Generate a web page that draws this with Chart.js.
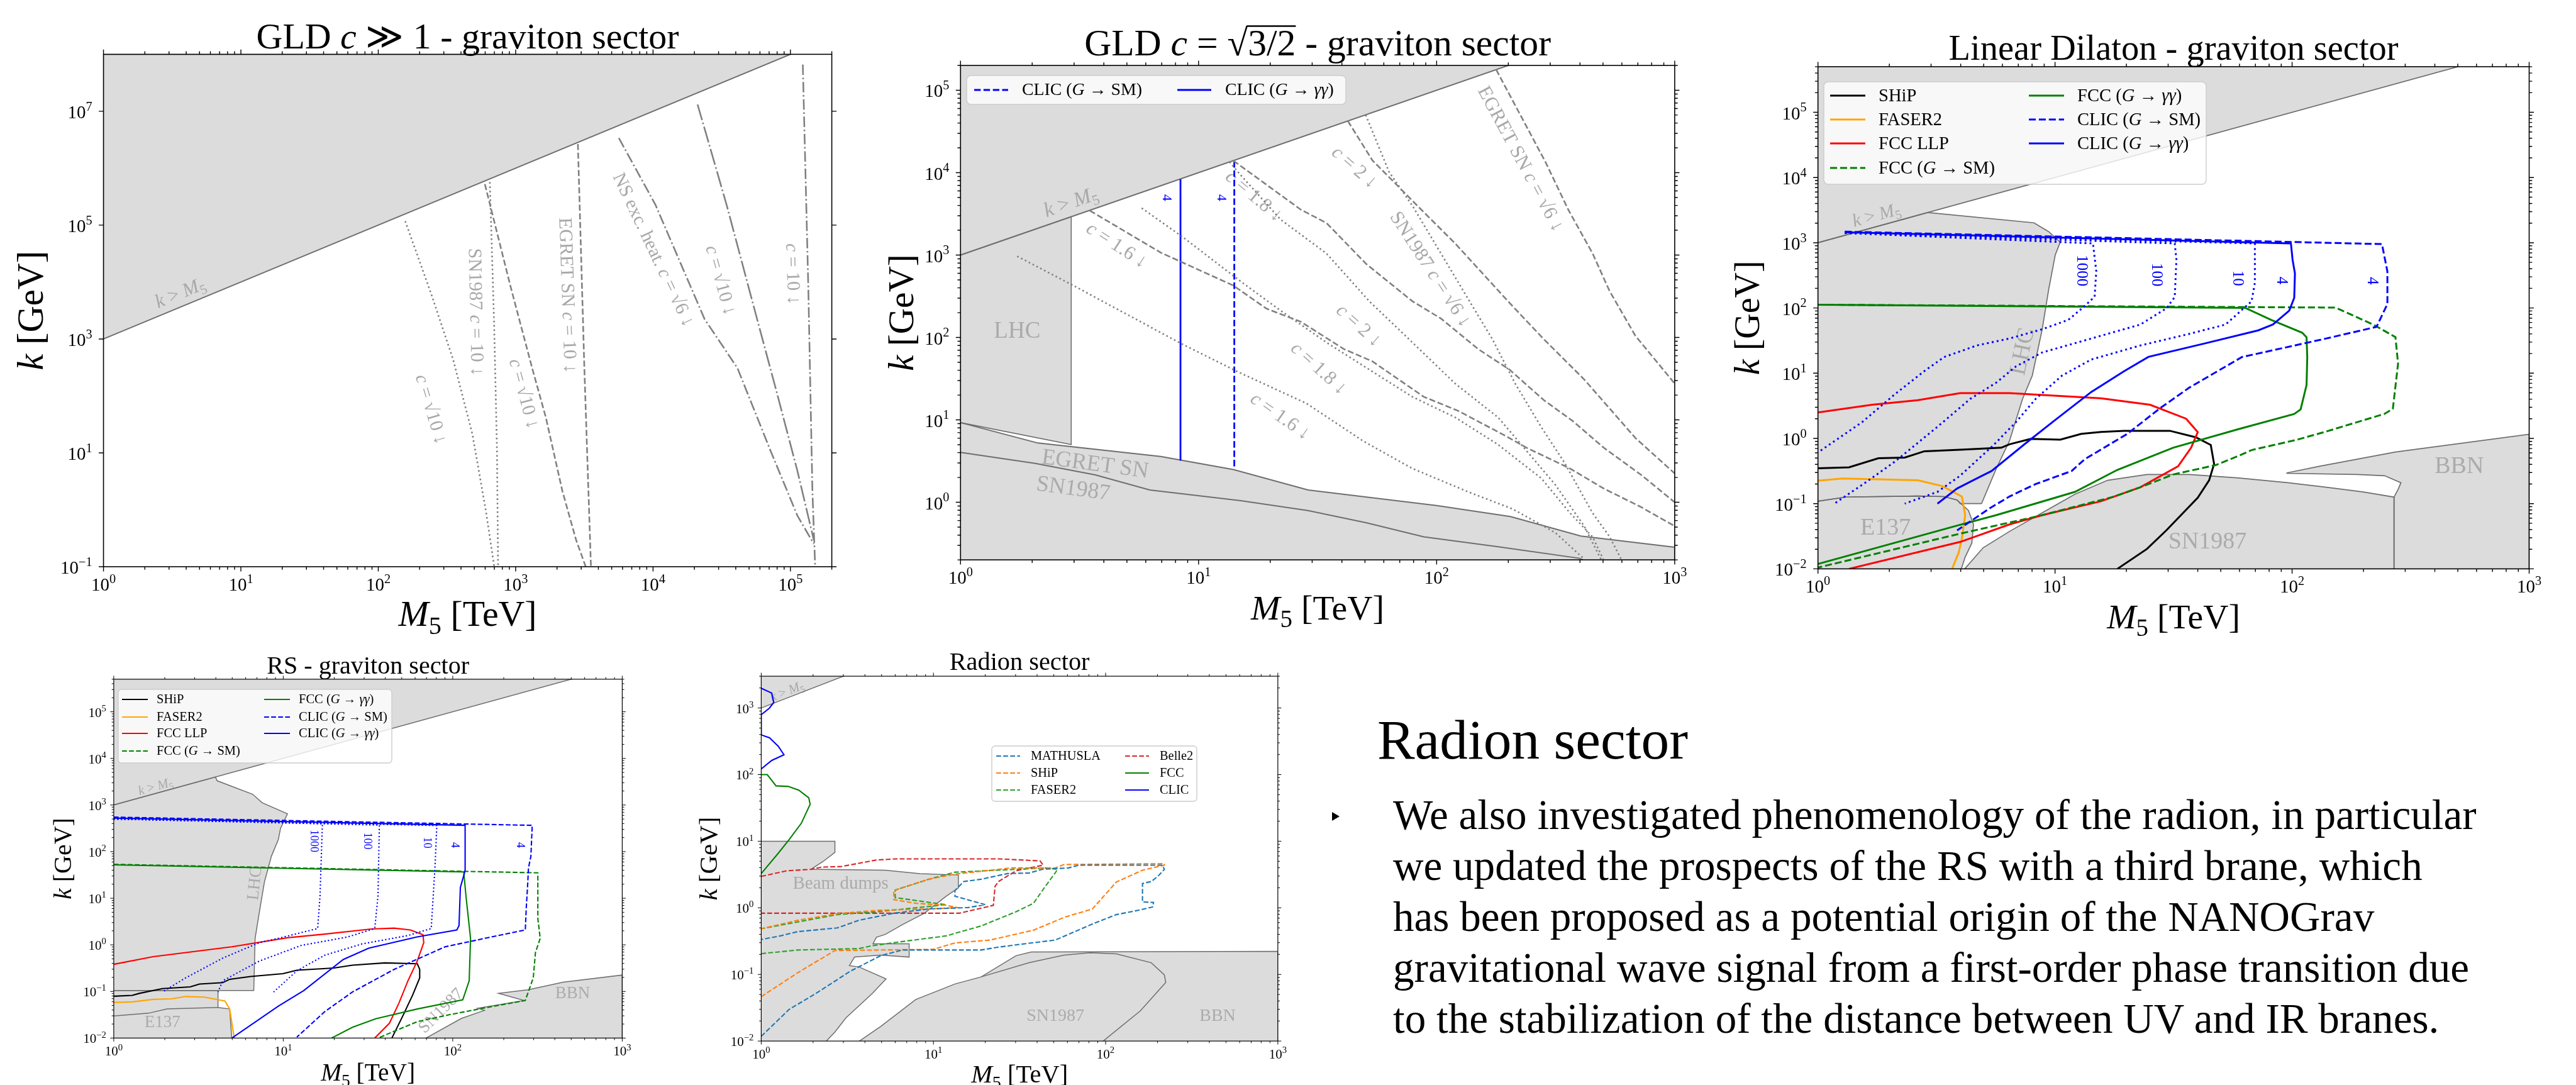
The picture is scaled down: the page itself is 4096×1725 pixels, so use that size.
<!DOCTYPE html>
<html>
<head>
<meta charset="utf-8">
<script src="https://cdn.jsdelivr.net/npm/chart.js@4.4.1/dist/chart.umd.min.js"></script>
<style>
  html, body { margin: 0; padding: 0; background: #fff; }
  body { width: 4096px; height: 1725px; position: relative; overflow: hidden; }
  canvas.panel { position: absolute; left: 0; top: 0; }
  .slide { position: absolute; font-family: 'Liberation Serif', 'DejaVu Serif', serif; color: #000; white-space: nowrap; line-height: 1; }
  #bullet { position: absolute; left: 2118px; top: 1291px; width: 0; height: 0;
    border-top: 7px solid transparent; border-bottom: 7px solid transparent; border-left: 12px solid #000; }
</style>
</head>
<body>
<canvas id="p1" class="panel" width="4096" height="1725"></canvas>
<canvas id="p2" class="panel" width="4096" height="1725"></canvas>
<canvas id="p3" class="panel" width="4096" height="1725"></canvas>
<canvas id="p4" class="panel" width="4096" height="1725"></canvas>
<canvas id="p5" class="panel" width="4096" height="1725"></canvas>

<div id="heading" class="slide">Radion sector</div>
<div id="bullet"></div>
<div class="slide body-line">We also investigated phenomenology of the radion, in particular</div>
<div class="slide body-line">we updated the prospects of the RS with a third brane, which</div>
<div class="slide body-line">has been proposed as a potential origin of the NANOGrav</div>
<div class="slide body-line">gravitational wave signal from a first-order phase transition due</div>
<div class="slide body-line">to the stabilization of the distance between UV and IR branes.</div>

<script>
// all curves below are [log10(M5 / TeV), log10(k / GeV)]

// ---- GLD c >> 1 ----
const p1KM5 = [[0, 3], [5, 8], [0, 8]];
const p1SnSqrt10 = [[2.196, 5.07], [2.387, 3.78], [2.546, 2.63], [2.685, 1.33], [2.784, -0.03], [2.844, -1]];
const p1Sn10 = [[2.812, 5.756], [2.844, 3.2], [2.864, 1.05], [2.872, -1]];
const p1EgSqrt10 = [[2.776, 5.72], [2.963, 3.92], [3.12, 2.49], [3.22, 1.62], [3.34, 0.33], [3.44, -0.53], [3.51, -1]];
const p1Eg10 = [[3.453, 6.425], [3.5, 2.49], [3.548, -1]];
const p1NsSqrt6 = [[3.751, 6.53], [4.017, 5.36], [4.375, 3.35], [4.614, 2.49], [4.853, 1.05], [5.05, -0.1], [5.17, -0.6]];
const p1NsSqrt10 = [[4.324, 7.12], [4.535, 5.36], [4.734, 3.56], [4.893, 2.13], [5.05, 0.69], [5.17, -0.53]];
const p1Ns10 = [[5.09, 7.82], [5.13, 3.92], [5.16, 0.33], [5.18, -1]];

// ---- GLD c = sqrt(3/2) ----
const p2KM5 = [[0, 3], [3, 6], [0, 6]];
const p2Lhc = [[0, 3], [0.465, 3.465], [0.465, 0.7], [0, 0.967]];
const p2Egret = [[0, 0.967], [0.325, 0.719], [0.841, 0.556], [1.146, 0.397], [1.46, 0.149], [2.0, -0.04], [2.31, -0.174], [2.606, -0.41], [3, -0.546], [3, -0.75], [0, -0.75]];
const p2Sn = [[0, 0.605], [0.314, 0.471], [0.566, 0.332], [0.795, 0.149], [1.177, 0.019], [1.46, -0.1], [1.706, -0.25], [1.946, -0.42], [2.258, -0.54], [2.6, -0.68], [2.65, -0.75], [0, -0.75]];
const p2Dot16 = [[0.238, 2.986], [0.474, 2.63], [0.924, 1.93], [1.162, 1.587], [1.453, 1.2], [1.693, 0.74], [1.898, 0.41], [2.138, 0.12], [2.318, -0.08], [2.499, -0.37], [2.62, -0.69]];
const p2Dot18 = [[0.761, 3.57], [0.933, 3.22], [1.177, 2.68], [1.333, 2.35], [1.537, 1.94], [1.717, 1.61], [1.898, 1.28], [2.078, 1.03], [2.258, 0.7], [2.44, 0.29], [2.56, -0.13], [2.655, -0.42], [2.7, -0.69]];
const p2Dot20 = [[1.13, 4.13], [1.177, 3.97], [1.345, 3.43], [1.537, 3.02], [1.717, 2.44], [1.898, 1.94], [2.078, 1.44], [2.258, 1.03], [2.379, 0.62], [2.499, 0.21], [2.62, -0.29], [2.69, -0.69]];
const p2DotSn = [[1.702, 4.7], [1.8, 4.01], [1.9, 3.59], [2.018, 3.02], [2.138, 2.44], [2.234, 1.98], [2.33, 1.44], [2.44, 0.91], [2.535, 0.49], [2.655, -0.13], [2.727, -0.42], [2.775, -0.69]];
const p2Dash16 = [[0.543, 3.54], [0.841, 3.03], [1.146, 2.63], [1.285, 2.35], [1.43, 2.19], [1.61, 1.86], [1.73, 1.71], [1.946, 1.28], [2.09, 1.11], [2.28, 0.82], [2.379, 0.66], [2.56, 0.41], [2.703, 0.165], [2.86, -0.06], [3, -0.29]];
const p2Dash18 = [[1.146, 4.146], [1.43, 3.55], [1.537, 3.39], [1.705, 2.89], [1.898, 2.44], [2.018, 2.23], [2.174, 1.86], [2.306, 1.61], [2.45, 1.24], [2.57, 0.99], [2.703, 0.66], [2.86, 0.33], [3, 0]];
const p2Dash20 = [[1.627, 4.627], [1.73, 4.15], [1.922, 3.59], [2.078, 3.14], [2.306, 2.42], [2.45, 1.98], [2.62, 1.49], [2.835, 0.78], [3, 0.35]];
const p2DashEg = [[2.25, 5.25], [2.457, 4.13], [2.553, 3.55], [2.655, 3.02], [2.727, 2.56], [2.835, 2.02], [3, 1.44]];
const p2ClicGG = [[0.924, 3.92], [0.924, 0.506]];
const p2ClicSM = [[1.15, 4.14], [1.15, 0.407]];

// ---- Linear Dilaton ----
const p3KM5 = [[0, 3], [3, 6], [0, 6]];
const p3Lhc = [[0, 3], [0.463, 3.463], [0.911, 3.306], [0.973, 3.171], [1.022, 3.01], [1.001, 2.815], [0.973, 2.28], [0.946, 1.674], [0.904, 0.962], [0.863, 0.605], [0.808, -0.036], [0.752, -0.464], [0.69, -1.0], [0.6, -1.0], [0.587, -0.945], [0.532, -0.892], [0.421, -0.884], [0.117, -0.899], [0, -0.963]];
const p3E137 = [[0, -0.963], [0.117, -0.899], [0.421, -0.884], [0.532, -0.892], [0.587, -0.945], [0.635, -1.106], [0.656, -1.319], [0.649, -1.605], [0.621, -1.818], [0.6, -2.05], [0, -2.05]];
const p3Sn = [[0.607, -2.05], [0.697, -1.676], [0.808, -1.426], [0.946, -1.141], [1.084, -0.856], [1.222, -0.642], [1.388, -0.553], [1.567, -0.553], [1.774, -0.607], [1.981, -0.678], [2.144, -0.749], [2.3, -0.82], [2.43, -0.9], [2.43, -2.05]];
const p3Bbn = [[1.976, -0.53], [2.114, -0.428], [2.436, -0.208], [3, 0.063], [3, -2.05], [2.43, -2.05], [2.43, -0.9], [2.448, -0.774], [2.459, -0.679], [2.39, -0.572], [2.275, -0.553], [1.976, -0.535]];
const p3Ship = [[0, -0.457], [0.131, -0.443], [0.255, -0.304], [0.366, -0.293], [0.449, -0.197], [0.614, -0.172], [0.773, -0.143], [0.808, -0.09], [0.897, -0.008], [1.022, -0.019], [1.111, 0.07], [1.194, 0.099], [1.291, 0.117], [1.484, 0.117], [1.594, 0.017], [1.657, -0.1], [1.671, -0.393], [1.65, -0.642], [1.602, -0.91], [1.47, -1.408], [1.388, -1.694], [1.263, -2]];
const p3Faser = [[0, -0.649], [0.104, -0.614], [0.421, -0.642], [0.525, -0.731], [0.607, -0.892], [0.621, -1.177], [0.607, -1.533], [0.594, -1.747], [0.566, -2]];
const p3FccLlp = [[0, 0.398], [0.228, 0.516], [0.421, 0.587], [0.6, 0.694], [0.808, 0.694], [1.194, 0.616], [1.401, 0.516], [1.553, 0.302], [1.602, 0.096], [1.574, -0.143], [1.519, -0.428], [1.36, -0.749], [1.194, -0.963], [0.946, -1.177], [0.808, -1.319], [0.6, -1.587], [0.131, -2]];
const p3FccGG = [[0, 2.05], [1.802, 2.002], [1.912, 1.817], [2.043, 1.62], [2.061, 1.55], [2.064, 1.247], [2.061, 0.82], [2.036, 0.445], [2.009, 0.374], [1.774, 0.142], [1.498, -0.143], [1.263, -0.482], [1.084, -0.82], [0.752, -1.177], [0.587, -1.337], [0, -1.925]];
const p3FccSM = [[0, 2.05], [2.183, 2.006], [2.344, 1.742], [2.436, 1.553], [2.447, 1.145], [2.425, 0.453], [2.39, 0.377], [2.144, 0.106], [2.023, -0.018], [1.829, -0.179], [1.774, -0.268], [1.677, -0.41], [1.498, -0.553], [1.36, -0.749], [1.249, -0.892], [0.946, -1.177], [0.6, -1.46], [0, -1.98]];
const p3ClicSM = [[0.113, 3.17], [2.379, 2.98], [2.402, 2.56], [2.402, 2.06], [2.356, 1.71], [2.144, 1.532], [1.788, 1.247], [1.567, 0.78], [1.443, 0.463], [1.305, 0.07], [1.125, -0.32], [1.07, -0.5], [0.918, -0.7], [0.808, -0.89], [0.725, -1.07], [0.587, -1.41]];
const p3ClicGG = [[0.113, 3.16], [1.995, 2.99], [2.002, 2.74], [2.012, 2.53], [2.009, 2.155], [1.988, 1.96], [1.919, 1.746], [1.857, 1.657], [1.636, 1.46], [1.394, 1.25], [1.291, 1.03], [1.153, 0.712], [1.001, 0.284], [0.877, -0.072], [0.732, -0.5], [0.683, -0.589], [0.587, -0.767], [0.504, -1.0]];
const p3Clic10 = [[0.113, 3.15], [1.843, 2.99], [1.843, 2.387], [1.829, 2.1], [1.774, 1.924], [1.719, 1.746], [1.567, 1.603], [1.36, 1.425], [1.153, 1.21], [1.029, 0.962], [0.918, 0.605], [0.835, 0.249], [0.739, -0.108], [0.6, -0.571], [0.504, -0.82], [0.366, -1.0]];
const p3Clic100 = [[0.113, 3.15], [1.505, 2.99], [1.512, 2.74], [1.505, 2.17], [1.47, 1.995], [1.36, 1.746], [1.222, 1.603], [1.084, 1.46], [0.946, 1.318], [0.835, 1.104], [0.752, 0.855], [0.642, 0.605], [0.504, 0.178], [0.324, -0.357], [0.2, -0.678], [0.069, -1.0]];
const p3Clic1000 = [[0.113, 3.15], [1.16, 2.99], [1.174, 2.565], [1.167, 2.173], [1.125, 2.03], [1.056, 1.817], [0.946, 1.674], [0.808, 1.532], [0.67, 1.425], [0.532, 1.247], [0.449, 1.033], [0.324, 0.676], [0.186, 0.249], [0, -0.215]];

// ---- RS ----
const p4KM5 = [[0, 3], [3, 6], [0, 6]];
const p4Lhc = [[0, 3], [0.6, 3.6], [0.61, 3.52], [0.82, 3.23], [0.875, 3.05], [1.025, 2.81], [0.984, 2.5], [0.971, 2.26], [0.93, 1.9], [0.889, 1.35], [0.861, 0.745], [0.834, 0.14], [0.826, -0.98], [0, -0.98]];
const p4E137 = [[0, -0.98], [0.615, -0.98], [0.615, -1.345], [0.684, -1.376], [0.697, -2.05], [0, -2.05]];
const p4E137Edge = [[0, -1.527], [0.205, -1.467], [0.315, -1.376], [0.615, -1.345]];
const p4Bbn = [[1.818, -2.05], [2.05, -1.58], [2.187, -1.406], [2.147, -1.36], [2.42, -1.194], [2.27, -1.04], [2.447, -0.964], [2.652, -0.8], [3, -0.648], [3, -2.05]];
const p4Ship = [[0, -1.103], [0.109, -1.085], [0.15, -1.042], [0.287, -0.939], [0.451, -0.903], [0.506, -0.842], [0.643, -0.812], [0.684, -0.739], [0.807, -0.679], [0.998, -0.618], [1.08, -0.545], [1.299, -0.497], [1.408, -0.436], [1.6, -0.388], [1.791, -0.406], [1.805, -0.527], [1.805, -0.709], [1.764, -1.073], [1.709, -1.497], [1.641, -2]];
const p4Faser = [[0, -1.236], [0.109, -1.224], [0.232, -1.17], [0.342, -1.158], [0.424, -1.109], [0.533, -1.121], [0.656, -1.206], [0.684, -1.376], [0.711, -2]];
const p4FccLlp = [[0, -0.418], [0.232, -0.255], [0.697, -0.042], [1.025, 0.152], [1.244, 0.23], [1.518, 0.339], [1.654, 0.358], [1.75, 0.32], [1.824, 0.218], [1.829, 0.048], [1.791, -0.345], [1.736, -0.77], [1.682, -1.255], [1.627, -1.679], [1.54, -2]];
const p4FccGG = [[0, 1.715], [2.065, 1.564], [2.078, 1.048], [2.105, 0.139], [2.097, -0.77], [2.059, -1.18], [1.791, -1.376], [1.545, -1.588], [1.408, -1.77], [1.285, -2]];
const p4FccSM = [[0, 1.727], [2.502, 1.545], [2.502, 0.564], [2.516, 0.139], [2.488, -0.164], [2.475, -0.709], [2.428, -1.194], [2.201, -1.345], [1.983, -1.497], [1.791, -1.648], [1.559, -2]];
const p4ClicGG = [[0, 2.72], [2.073, 2.564], [2.073, 1.594], [2.045, 1.23], [2.037, 0.412], [2.024, 0.32], [1.791, 0.17], [1.504, -0.073], [1.354, -0.315], [1.121, -0.98], [0.971, -1.315], [0.697, -2]];
const p4ClicSM = [[0, 2.74], [2.469, 2.564], [2.461, 1.897], [2.447, 1.655], [2.442, 1.29], [2.434, 0.806], [2.428, 0.32], [2.229, 0.17], [1.955, -0.042], [1.805, -0.285], [1.654, -0.527], [1.408, -1.012], [1.244, -1.436], [1.08, -1.98]];
const p4Clic1000 = [[0, 2.7], [1.231, 2.6], [1.217, 1.05], [1.203, 0.35], [0.971, 0.14], [0.861, 0.05], [0.643, -0.285], [0.424, -0.709], [0.287, -1.012]];
const p4Clic100 = [[0, 2.7], [1.567, 2.57], [1.559, 1.05], [1.54, 0.35], [1.381, 0.17], [1.107, -0.012], [0.861, -0.345], [0.643, -0.77], [0.615, -1.012]];
const p4Clic10 = [[0, 2.7], [1.906, 2.56], [1.895, 1.655], [1.873, 0.35], [1.736, 0.2], [1.463, 0.018], [1.244, -0.224], [1.08, -0.558], [0.943, -1.012]];

// ---- Radion ----
const p5KM5 = [[0, 3], [1, 4], [0, 4]];
const p5Beam = [[0, 1.0], [0.428, 1.0], [0.428, 0.833], [0.36, 0.697], [0.289, 0.578], [0.72, 0.565], [0.922, 0.514], [1.145, 0.493], [1.145, 0.3], [1.074, 0.174], [0.948, -0.081], [0.821, -0.251], [0.72, -0.4], [0.669, -0.442], [0.649, -0.54], [0.859, -0.54], [0.859, -0.739], [0.694, -0.709], [0.542, -0.739], [0.512, -0.867], [0.568, -0.888], [0.725, -1.066], [0.643, -1.29], [0.492, -1.652], [0.428, -1.865], [0.36, -2.05], [0, -2.05]];
const p5Sn = [[0.542, -2.05], [0.694, -1.78], [0.897, -1.376], [1.125, -1.143], [1.277, -1.037], [1.48, -0.718], [1.568, -0.663], [3, -0.654], [3, -2.05]];
const p5SnEdge = [[1.277, -1.037], [1.556, -0.824], [1.758, -0.709], [1.91, -0.675], [2.062, -0.692], [2.265, -0.824], [2.341, -1.007], [2.349, -1.121], [2.202, -1.546], [1.986, -2]];
const p5Clic = [[0, 3.297], [0.061, 3.224], [0.073, 3.084], [0.048, 2.999], [0, 2.9], [0, 2.596], [0.048, 2.553], [0.099, 2.426], [0.132, 2.298], [0.061, 2.213], [0, 2.086]];
const p5Fcc = [[0, 2.0], [0.035, 2.0], [0.086, 1.831], [0.157, 1.822], [0.218, 1.767], [0.276, 1.652], [0.284, 1.555], [0.233, 1.27], [0.162, 1.024], [0.099, 0.82], [0, 0.514]];
const p5Belle = [[0, 0.472], [0.149, 0.556], [0.289, 0.578], [0.352, 0.612], [0.466, 0.62], [0.669, 0.718], [0.783, 0.735], [1.378, 0.735], [1.619, 0.705], [1.637, 0.641], [1.48, 0.556], [1.378, 0.395], [1.358, 0.323], [1.348, 0.038], [1.15, -0.081], [0, -0.081]];
const p5Ship = [[0, -1.334], [0.213, -0.973], [0.428, -0.641], [0.669, -0.633], [0.998, -0.624], [1.125, -0.527], [1.328, -0.484], [1.581, -0.336], [1.758, -0.144], [1.923, -0.017], [2.062, 0.387], [2.214, 0.565], [2.341, 0.641], [2.341, 0.663], [1.758, 0.65], [1.707, 0.599], [1.454, 0.599], [1.125, 0.506], [0.973, 0.429], [0.77, 0.259], [0.77, 0.123], [0.897, 0.068], [1.074, 0.038], [1.138, 0.004], [0.973, -0.017], [0.669, -0.038], [0.441, -0.089], [0.213, -0.187], [0, -0.314]];
const p5Faser = [[0, -0.688], [0.213, -0.633], [0.568, -0.612], [0.643, -0.569], [0.821, -0.506], [1.074, -0.421], [1.277, -0.272], [1.48, -0.059], [1.581, 0.068], [1.644, 0.302], [1.707, 0.523], [1.72, 0.578], [1.657, 0.599], [1.125, 0.535], [0.973, 0.429], [0.778, 0.268], [0.778, 0.153], [1.074, 0.047], [0.669, -0.059], [0.441, -0.102], [0, -0.314]];
const p5Math = [[0, -1.929], [0.162, -1.525], [0.314, -1.291], [0.517, -0.952], [0.694, -0.718], [0.821, -0.633], [1.277, -0.633], [1.378, -0.59], [1.53, -0.54], [1.707, -0.484], [1.784, -0.399], [1.936, -0.229], [2.062, -0.102], [2.189, -0.038], [2.273, 0.013], [2.278, 0.081], [2.214, 0.089], [2.214, 0.365], [2.265, 0.395], [2.303, 0.472], [2.341, 0.578], [2.329, 0.641], [1.847, 0.641], [1.784, 0.599], [1.632, 0.578], [1.556, 0.523], [1.429, 0.514], [1.277, 0.429], [1.176, 0.395], [1.125, 0.259], [1.125, 0.174], [1.302, 0.047], [1.201, 0.004], [0.973, -0.017], [0.77, -0.081], [0.568, -0.187], [0.441, -0.302], [0.213, -0.357], [0.111, -0.421], [0, -0.476]];

// ------------------------------------------------------------------
const W = 4096, H = 1725, S = 0.68;
const FONT = "'Liberation Serif', 'DejaVu Serif', serif";
const FILL = '#dcdcdc', EDGE = '#6e6e6e', GRAYLINE = '#808080', LBL = '#a8a8a8', REGLBL = '#ababab';
const BLUE = '#0000ff', RED = '#ff0000', GREEN = '#008000', ORANGE = '#ffa500';

const R = t => ({ t }), I = t => ({ t, i: 1 }), SUB = t => ({ t, sub: 1 }), SUP = t => ({ t, sup: 1 }), OV = t => ({ t, over: 1 });
const DASHED = w => [3.7 * w, 1.6 * w];
const DOTTED = w => [w, 1.65 * w];
const DASHDOT = w => [6.4 * w, 1.6 * w, w, 1.6 * w];

const pts = pairs => pairs.map(([a, b]) => ({ x: Math.pow(10, a), y: Math.pow(10, b) }));

function line(label, pairs, color, width, dash) {
  return { label, data: pts(pairs), borderColor: color, borderWidth: width, borderDash: dash || [],
    showLine: true, pointRadius: 0, fill: false, tension: 0, order: 1 };
}
function region(pairs, width, filled) {
  return { label: '', data: pts(pairs), borderColor: EDGE, borderWidth: width, borderDash: [],
    showLine: true, pointRadius: 0, fill: false, tension: 0, order: 10, region: filled === false ? null : FILL };
}

function partFont(p, size) {
  const s = (p.sub || p.sup) ? size * 0.7 : size;
  return (p.i ? 'italic ' : '') + s.toFixed(2) + 'px ' + FONT;
}
function richWidth(ctx, parts, size) {
  let w = 0;
  parts.forEach(p => { ctx.font = partFont(p, size); w += ctx.measureText(p.t).width; });
  return w;
}
function drawRich(ctx, parts, x, y, size, o) {
  o = o || {};
  ctx.save();
  ctx.translate(x, y);
  if (o.rot) ctx.rotate(o.rot * Math.PI / 180);
  const w = richWidth(ctx, parts, size);
  let cx = o.align === 'left' ? 0 : o.align === 'right' ? -w : -w / 2;
  const dy = o.vcenter ? size * (o.vc || 0.32) : 0;
  ctx.fillStyle = o.color || '#000';
  ctx.strokeStyle = o.color || '#000';
  ctx.textAlign = 'left';
  ctx.textBaseline = 'alphabetic';
  parts.forEach(p => {
    ctx.font = partFont(p, size);
    const pw = ctx.measureText(p.t).width;
    let oy = dy;
    if (p.sub) oy += size * 0.22;
    if (p.sup) oy -= size * 0.42;
    ctx.fillText(p.t, cx, oy);
    if (p.over) {
      ctx.lineWidth = size * 0.045;
      ctx.beginPath();
      ctx.moveTo(cx - size * 0.02, oy - size * 0.78);
      ctx.lineTo(cx + pw, oy - size * 0.78);
      ctx.stroke();
    }
    cx += pw;
  });
  ctx.restore();
  return w;
}
function fitSize(ctx, parts, target) {
  return 100 * target / richWidth(ctx, parts, 100);
}
function labelParts(s) {
  return s.split(/(G(?= →)|γγ)/).filter(Boolean).map(t => (t === 'G' || t === 'γγ') ? I(t) : R(t));
}
// step > 1: only every step-th decade gets a tick (and no minor ticks), as matplotlib does on long axes
function logTicks(min, max, step, base) {
  const out = [];
  for (let e = Math.floor(Math.log10(min)) - 1; e <= Math.ceil(Math.log10(max)); e++) {
    for (let m = 1; m <= 9; m++) {
      if (step > 1 && (m > 1 || ((e - base) % step + step) % step !== 0)) continue;
      const v = m * Math.pow(10, e);
      if (v >= min * (1 - 1e-9) && v <= max * (1 + 1e-9)) out.push({ v, major: m === 1, e });
    }
  }
  return out;
}
const expText = e => (e < 0 ? '−' + (-e) : String(e));

const lab = (p, x, y, rot, size, color) => ({ p, x, y, rot: rot || 0, size, color: color || LBL });
const KM5 = [I('k'), R(' > '), I('M'), SUB('5')];
const XLAB = [I('M'), SUB('5'), R(' [TeV]')];
const YLAB = [I('k'), R(' [GeV]')];

// decorations per panel (page pixels)
const BIG_TICK = { size: 29, major: 7.5, minor: 4.8, lw: 1.4, xOff: 38, yOff: 18 };
const SMALL_TICK = { size: 21, major: 5.5, minor: 3.2, lw: 1.0, xOff: 28, yOff: 12 };
const DECO = {
  p1: {
    title: [R('GLD '), I('c'), R(' ≫ 1 - graviton sector')], titleW: 672, titleY: 77,
    xlabW: 220, xlabY: 995, ylabW: 190, ylabX: 50,
    tick: BIG_TICK, yStep: 2, yBase: -1, frame: 1.6,
    labels: [
      lab(KM5, 0.557, 3.815, -22.5, 31),
      lab([I('c'), R(' = √10 ↓')], 2.387, 1.766, 73.5, 30),
      lab([R('SN1987 '), I('c'), R(' = 10 ↓')], 2.713, 3.47, 88.8, 30),
      lab([I('c'), R(' = √10 ↓')], 3.063, 2.04, 74.8, 30),
      lab([R('EGRET SN '), I('c'), R(' = 10 ↓')], 3.381, 3.765, 88, 30),
      lab([R('NS exc. heat. '), I('c'), R(' = √6 ↓')], 4.006, 4.57, 64.7, 30),
      lab([I('c'), R(' = √10 ↓')], 4.495, 4.03, 74.5, 30),
      lab([I('c'), R(' = 10 ↓')], 5.02, 4.14, 88, 30)
    ]
  },
  p2: {
    title: [R('GLD '), I('c'), R(' = √'), OV('3/2'), R(' - graviton sector')], titleW: 742, titleY: 88,
    xlabW: 212, xlabY: 985, ylabW: 186, ylabX: 1435,
    tick: BIG_TICK, frame: 1.6,
    labels: [
      lab(KM5, 0.463, 3.646, -19.1, 33),
      lab([R('LHC')], 0.238, 2.09, 0, 37, REGLBL),
      lab([R('EGRET SN')], 0.566, 0.471, 7.7, 36, REGLBL),
      lab([R('SN1987')], 0.474, 0.174, 7.7, 36, REGLBL),
      lab([I('c'), R(' = 1.6 ↓')], 0.658, 3.125, 33, 31),
      lab([I('c'), R(' = 1.8 ↓')], 1.235, 3.72, 40, 31),
      lab([I('c'), R(' = 2 ↓')], 1.657, 4.07, 41, 31),
      lab([R('EGRET SN '), I('c'), R(' = √6 ↓')], 2.355, 4.17, 61.8, 31),
      lab([R('SN1987 '), I('c'), R(' = √6 ↓')], 1.976, 2.83, 57, 31),
      lab([I('c'), R(' = 2 ↓')], 1.675, 2.15, 42, 31),
      lab([I('c'), R(' = 1.8 ↓')], 1.507, 1.63, 42, 31),
      lab([I('c'), R(' = 1.6 ↓')], 1.345, 1.05, 35, 31),
      lab([R('4')], 0.869, 3.696, 90, 22, BLUE),
      lab([R('4')], 1.098, 3.696, 90, 22, BLUE)
    ],
    legend: { box: [1537, 120, 603, 46], fit: ['CLIC (G → SM)', 191], sw: 54, rows: [143], cols: [[1549, 1625], [1872, 1948]],
      items: ['CLIC (G → SM)', 'CLIC (G → γγ)'] }
  },
  p3: {
    title: [R('Linear Dilaton - graviton sector')], titleW: 715, titleY: 95,
    xlabW: 212, xlabY: 999, ylabW: 182, ylabX: 2780,
    tick: BIG_TICK, frame: 1.6,
    labels: [
      lab(KM5, 0.246, 3.428, -15.3, 29),
      lab([R('1000')], 1.114, 2.572, 90, 25, BLUE),
      lab([R('100')], 1.432, 2.51, 90, 25, BLUE),
      lab([R('10')], 1.774, 2.458, 90, 25, BLUE),
      lab([R('4')], 1.96, 2.42, 90, 25, BLUE),
      lab([R('4')], 2.34, 2.415, 90, 25, BLUE),
      lab([R('LHC')], 0.859, 1.336, -78, 38, REGLBL),
      lab([R('E137')], 0.285, -1.358, 0, 38, REGLBL),
      lab([R('SN1987')], 1.643, -1.572, 0, 38, REGLBL),
      lab([R('BBN')], 2.705, -0.41, 0, 38, REGLBL)
    ],
    legend: { box: [2900, 130, 608, 163], fit: ['FCC (G → SM)', 185], sw: 56, rows: [152, 190, 228, 267], cols: [[2910, 2987], [3226, 3303]],
      items: ['SHiP', 'FASER2', 'FCC LLP', 'FCC (G → SM)', 'FCC (G → γγ)', 'CLIC (G → SM)', 'CLIC (G → γγ)'] }
  },
  p4: {
    title: [R('RS - graviton sector')], titleW: 322, titleY: 1071,
    xlabW: 150, xlabY: 1718, ylabW: 130, ylabX: 101,
    tick: SMALL_TICK, frame: 1.2,
    labels: [
      lab(KM5, 0.246, 3.4, -15.4, 21),
      lab([R('LHC')], 0.829, 1.32, -84, 27, REGLBL),
      lab([R('E137')], 0.287, -1.648, 0, 27, REGLBL),
      lab([R('SN1987')], 1.928, -1.406, -45, 27, REGLBL),
      lab([R('BBN')], 2.707, -1.024, 0, 27, REGLBL),
      lab([R('1000')], 1.184, 2.23, 90, 18, BLUE),
      lab([R('100')], 1.498, 2.23, 90, 18, BLUE),
      lab([R('10')], 1.851, 2.19, 90, 18, BLUE),
      lab([R('4')], 2.015, 2.14, 90, 18, BLUE),
      lab([R('4')], 2.4, 2.14, 90, 18, BLUE)
    ],
    legend: { box: [188, 1096, 435, 117], fit: ['FCC (G → SM)', 133], sw: 41, rows: [1112, 1140, 1166, 1194], cols: [[194, 249], [420, 475]],
      items: ['SHiP', 'FASER2', 'FCC LLP', 'FCC (G → SM)', 'FCC (G → γγ)', 'CLIC (G → SM)', 'CLIC (G → γγ)'] }
  },
  p5: {
    title: [R('Radion sector')], titleW: 223, titleY: 1065,
    xlabW: 154, xlabY: 1721, ylabW: 133, ylabX: 1128,
    tick: SMALL_TICK, frame: 1.2,
    labels: [
      lab(KM5, 0.149, 3.254, -21.1, 21),
      lab([R('Beam dumps')], 0.461, 0.374, 0, 29, REGLBL),
      lab([R('SN1987')], 1.708, -1.61, 0, 28, REGLBL),
      lab([R('BBN')], 2.65, -1.61, 0, 28, REGLBL)
    ],
    legend: { box: [1577, 1186, 326, 88], fit: ['MATHUSLA', 111], sw: 38, rows: [1202, 1229, 1256], cols: [[1584, 1639], [1789, 1844]],
      items: ['MATHUSLA', 'SHiP', 'FASER2', 'Belle2', 'FCC', 'CLIC'] }
  }
};

const decoPlugin = {
  id: 'deco',
  beforeDatasetsDraw(chart) {
    const ctx = chart.ctx, a = chart.chartArea, d = DECO[chart.canvas.id];
    const xs = chart.scales.x, ys = chart.scales.y;
    ctx.save();
    ctx.beginPath();
    ctx.rect(a.left, a.top, a.right - a.left, a.bottom - a.top);
    ctx.clip();
    chart.data.datasets.forEach((ds, i) => {
      if (!ds.region) return;
      const el = chart.getDatasetMeta(i).data;
      ctx.beginPath();
      el.forEach((p, k) => (k ? ctx.lineTo(p.x, p.y) : ctx.moveTo(p.x, p.y)));
      ctx.closePath();
      ctx.fillStyle = ds.region;
      ctx.fill();
    });
    d.labels.forEach(lb => {
      drawRich(ctx, lb.p, xs.getPixelForValue(Math.pow(10, lb.x)), ys.getPixelForValue(Math.pow(10, lb.y)),
        lb.size, { rot: lb.rot, color: lb.color, vcenter: true });
    });
    ctx.restore();
  },
  afterDraw(chart) {
    const ctx = chart.ctx, a = chart.chartArea, d = DECO[chart.canvas.id];
    const xs = chart.scales.x, ys = chart.scales.y, tk = d.tick;
    const xt = logTicks(xs.min, xs.max, 1, 0);
    const yt = logTicks(ys.min, ys.max, d.yStep || 1, d.yBase || 0);
    ctx.save();
    ctx.strokeStyle = '#000';
    ctx.lineWidth = tk.lw;
    ctx.beginPath();
    xt.forEach(t => {
      const p = xs.getPixelForValue(t.v), len = t.major ? tk.major : tk.minor;
      ctx.moveTo(p, a.bottom); ctx.lineTo(p, a.bottom + len);
      ctx.moveTo(p, a.top); ctx.lineTo(p, a.top - len);
    });
    yt.forEach(t => {
      const p = ys.getPixelForValue(t.v), len = t.major ? tk.major : tk.minor;
      ctx.moveTo(a.left, p); ctx.lineTo(a.left - len, p);
      ctx.moveTo(a.right, p); ctx.lineTo(a.right + len, p);
    });
    ctx.stroke();
    ctx.lineWidth = d.frame;
    ctx.strokeRect(a.left, a.top, a.right - a.left, a.bottom - a.top);

    xt.filter(t => t.major).forEach(t => {
      drawRich(ctx, [R('10'), SUP(expText(t.e))], xs.getPixelForValue(t.v), a.bottom + tk.xOff, tk.size, { align: 'center' });
    });
    yt.filter(t => t.major).forEach(t => {
      drawRich(ctx, [R('10'), SUP(expText(t.e))], a.left - tk.yOff, ys.getPixelForValue(t.v), tk.size,
        { align: 'right', vcenter: true, vc: 0.38 });
    });

    const cx = (a.left + a.right) / 2, cy = (a.top + a.bottom) / 2;
    drawRich(ctx, d.title, cx, d.titleY, fitSize(ctx, d.title, d.titleW), { align: 'center' });
    drawRich(ctx, XLAB, cx, d.xlabY, fitSize(ctx, XLAB, d.xlabW), { align: 'center' });
    drawRich(ctx, YLAB, d.ylabX, cy, fitSize(ctx, YLAB, d.ylabW), { rot: -90, vcenter: true, vc: 0.3 });

    if (d.legend) {
      const lg = d.legend, [bx, by, bw, bh] = lg.box;
      const size = fitSize(ctx, labelParts(lg.fit[0]), lg.fit[1]);
      ctx.beginPath();
      if (ctx.roundRect) ctx.roundRect(bx, by, bw, bh, size * 0.25); else ctx.rect(bx, by, bw, bh);
      ctx.fillStyle = 'rgba(255,255,255,0.8)';
      ctx.fill();
      ctx.strokeStyle = '#cccccc';
      ctx.lineWidth = 1.4;
      ctx.stroke();
      lg.items.forEach((name, k) => {
        const ds = chart.data.datasets.find(s => s.label === name);
        const col = Math.floor(k / lg.rows.length), row = k % lg.rows.length;
        const [sx, tx] = lg.cols[col], yy = lg.rows[row];
        ctx.beginPath();
        ctx.setLineDash(ds.borderDash || []);
        ctx.strokeStyle = ds.borderColor;
        ctx.lineWidth = ds.borderWidth;
        ctx.moveTo(sx, yy); ctx.lineTo(sx + lg.sw, yy);
        ctx.stroke();
        ctx.setLineDash([]);
        drawRich(ctx, labelParts(name), tx, yy, size, { align: 'left', vcenter: true, vc: 0.3 });
      });
    }
    ctx.restore();
  }
};

// plot rectangles in reference pixels: left, top, right, bottom
const PLOT = {
  p1: [242, 127, 1945, 1325],
  p2: [2246, 153, 3916, 1309],
  p3: [4251, 156, 5914, 1330],
  p4: [266, 1588, 1455, 2427],
  p5: [1780, 1581, 2988, 2434]
};

function makeChart(id, xr, yr, datasets) {
  const [l, t, r, b] = PLOT[id].map(v => v * S);
  return new Chart(document.getElementById(id), {
    type: 'scatter',
    data: { datasets },
    options: {
      responsive: false, animation: false, devicePixelRatio: 1, events: [],
      layout: { padding: { left: l, top: t, right: W - r, bottom: H - b } },
      scales: {
        x: { type: 'logarithmic', min: xr[0], max: xr[1], display: false },
        y: { type: 'logarithmic', min: yr[0], max: yr[1], display: false }
      },
      plugins: { legend: { display: false }, tooltip: { enabled: false } }
    },
    plugins: [decoPlugin]
  });
}

const g1 = 2.6, g2 = 2.6, w3 = 3.0, w4 = 2.1, w5 = 2.1;

makeChart('p1', [1, 2e5], [0.1, 1e8], [
  region(p1KM5, 2),
  line('SN1987 c=√10', p1SnSqrt10, GRAYLINE, g1, DOTTED(g1)),
  line('SN1987 c=10', p1Sn10, GRAYLINE, g1, DOTTED(g1)),
  line('EGRET c=√10', p1EgSqrt10, GRAYLINE, g1, DASHED(g1)),
  line('EGRET c=10', p1Eg10, GRAYLINE, g1, DASHED(g1)),
  line('NS c=√6', p1NsSqrt6, GRAYLINE, g1, DASHDOT(g1)),
  line('NS c=√10', p1NsSqrt10, GRAYLINE, g1, [10 * g1, 1.6 * g1, g1, 1.6 * g1]),
  line('NS c=10', p1Ns10, GRAYLINE, g1, DASHDOT(g1))
]);

makeChart('p2', [1, 1e3], [0.2, 2e5], [
  region(p2KM5, 2),
  region(p2Lhc, 1.6),
  region(p2Egret, 2),
  region(p2Sn, 2),
  line('dot 1.6', p2Dot16, GRAYLINE, g2, DOTTED(g2)),
  line('dot 1.8', p2Dot18, GRAYLINE, g2, DOTTED(g2)),
  line('dot 2', p2Dot20, GRAYLINE, g2, DOTTED(g2)),
  line('dot SN', p2DotSn, GRAYLINE, g2, DOTTED(g2)),
  line('dash 1.6', p2Dash16, GRAYLINE, g2, DASHED(g2)),
  line('dash 1.8', p2Dash18, GRAYLINE, g2, DASHED(g2)),
  line('dash 2', p2Dash20, GRAYLINE, g2, DASHED(g2)),
  line('dash EGRET', p2DashEg, GRAYLINE, g2, DASHED(g2)),
  line('CLIC (G → SM)', p2ClicSM, BLUE, 2.8, DASHED(2.8)),
  line('CLIC (G → γγ)', p2ClicGG, BLUE, 2.8)
]);

makeChart('p3', [1, 1e3], [0.01, 5e5], [
  region(p3KM5, 1.7),
  region(p3Lhc, 1.7),
  region(p3E137, 1.7),
  region(p3Sn, 1.7),
  region(p3Bbn, 1.7),
  line('CLIC 1000', p3Clic1000, BLUE, w3, DOTTED(w3)),
  line('CLIC 100', p3Clic100, BLUE, w3, DOTTED(w3)),
  line('CLIC 10', p3Clic10, BLUE, w3, DOTTED(w3)),
  line('CLIC (G → SM)', p3ClicSM, BLUE, w3, DASHED(w3)),
  line('CLIC (G → γγ)', p3ClicGG, BLUE, w3),
  line('FCC (G → SM)', p3FccSM, GREEN, w3, DASHED(w3)),
  line('FCC (G → γγ)', p3FccGG, GREEN, w3),
  line('FCC LLP', p3FccLlp, RED, w3),
  line('FASER2', p3Faser, ORANGE, w3),
  line('SHiP', p3Ship, '#000000', w3)
]);

makeChart('p4', [1, 1e3], [0.01, 5e5], [
  region(p4KM5, 1.5),
  region(p4Lhc, 1.5),
  region(p4E137, 1.5),
  region(p4E137Edge, 1.5, false),
  region(p4Bbn, 1.5),
  line('CLIC 1000', p4Clic1000, BLUE, w4, DOTTED(w4)),
  line('CLIC 100', p4Clic100, BLUE, w4, DOTTED(w4)),
  line('CLIC 10', p4Clic10, BLUE, w4, DOTTED(w4)),
  line('CLIC (G → SM)', p4ClicSM, BLUE, w4, DASHED(w4)),
  line('CLIC (G → γγ)', p4ClicGG, BLUE, w4),
  line('FCC (G → SM)', p4FccSM, GREEN, w4, DASHED(w4)),
  line('FCC (G → γγ)', p4FccGG, GREEN, w4),
  line('FCC LLP', p4FccLlp, RED, w4),
  line('FASER2', p4Faser, ORANGE, w4),
  line('SHiP', p4Ship, '#000000', w4)
]);

makeChart('p5', [1, 1e3], [0.01, 3e3], [
  region(p5KM5, 1.5),
  region(p5Beam, 1.5),
  region(p5Sn, 1.5),
  region(p5SnEdge, 1.5, false),
  line('MATHUSLA', p5Math, '#1f77b4', w5, DASHED(w5)),
  line('SHiP', p5Ship, '#ff7f0e', w5, DASHED(w5)),
  line('FASER2', p5Faser, '#2ca02c', w5, DASHED(w5)),
  line('Belle2', p5Belle, '#d62728', w5, DASHED(w5)),
  line('FCC', p5Fcc, GREEN, w5),
  line('CLIC', p5Clic, BLUE, w5)
]);

// slide text, sized to the widths in the original
const meas = document.createElement('canvas').getContext('2d');
const textW = (str, px) => { meas.font = px + 'px ' + FONT; return meas.measureText(str).width; };
const head = document.getElementById('heading');
const hs = 100 * 494 / textW(head.textContent, 100);
head.style.fontFamily = FONT;
head.style.fontSize = hs + 'px';
head.style.left = '2190px';
head.style.top = (1206 - 0.8375 * hs) + 'px';
const bodyLines = document.querySelectorAll('.body-line');
const bs = 100 * 1723 / textW(bodyLines[0].textContent, 100);
const baselines = [1318, 1399, 1480, 1561, 1642];
bodyLines.forEach((el, i) => {
  el.style.fontFamily = FONT;
  el.style.fontSize = bs + 'px';
  el.style.left = '2215px';
  el.style.top = (baselines[i] - 0.8375 * bs) + 'px';
});
</script>
</body>
</html>
